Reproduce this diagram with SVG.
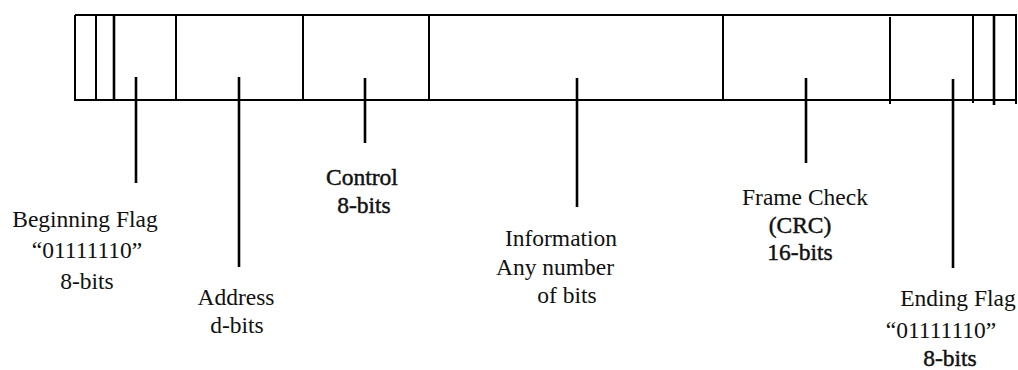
<svg xmlns="http://www.w3.org/2000/svg" width="1018" height="370" viewBox="0 0 1018 370">
  <style>
    .frame { stroke: #000; stroke-width: 2; fill: none; }
    .leader { stroke: #000; stroke-width: 2.6; fill: none; }
    .heavy { stroke: #111; stroke-width: 0.45; }
  </style>
  <rect width="1018" height="370" fill="#fff"/>

  <!-- frame body: outer border and field separators -->
  <g id="frame">
    <line class="frame" x1="75" y1="15" x2="1017" y2="15"/>
    <line class="frame" x1="75" y1="100" x2="1017" y2="100"/>
    <line class="frame" x1="75" y1="15" x2="75" y2="101"/>
    <line class="frame" x1="96" y1="15" x2="96" y2="101"/>
    <line class="frame" x1="114" y1="15" x2="114" y2="101" style="stroke-width:2.6"/>
    <line class="frame" x1="176" y1="15" x2="176" y2="101"/>
    <line class="frame" x1="303" y1="15" x2="303" y2="101"/>
    <line class="frame" x1="429" y1="15" x2="429" y2="101"/>
    <line class="frame" x1="723" y1="15" x2="723" y2="101"/>
    <line class="frame" x1="890" y1="17" x2="890" y2="104"/>
    <line class="frame" x1="973" y1="15" x2="973" y2="103"/>
    <line class="frame" x1="994" y1="15" x2="994" y2="105" style="stroke-width:2.6"/>
    <line class="frame" x1="1016" y1="15" x2="1016" y2="104"/>
  </g>

  <!-- leader lines from each field to its caption -->
  <g id="connectors">
    <line class="leader" x1="136" y1="77" x2="136" y2="183"/>
    <line class="leader" x1="239" y1="77" x2="239" y2="267"/>
    <line class="leader" x1="365" y1="78" x2="365" y2="143"/>
    <line class="leader" x1="577" y1="78" x2="577" y2="207"/>
    <line class="leader" x1="806" y1="78" x2="806" y2="163"/>
    <line class="leader" x1="953" y1="79" x2="953" y2="268"/>
  </g>

  <!-- captions: Times-style serif, centred under each leader -->
  <g id="beginning-flag" font-family="Liberation Serif" font-size="23.5" fill="#111" text-anchor="middle">
    <text x="85" y="227">Beginning Flag</text>
    <text x="87" y="258">“01111110”</text>
    <text x="87" y="289">8-bits</text>
  </g>

  <g id="address" font-family="Liberation Serif" font-size="23.5" fill="#111" text-anchor="middle">
    <text x="236" y="305">Address</text>
    <text x="237" y="333">d-bits</text>
  </g>

  <g id="control" font-family="Liberation Serif" font-size="23.5" fill="#111" text-anchor="middle">
    <text class="heavy" x="362" y="185">Control</text>
    <text class="heavy" x="364" y="213">8-bits</text>
  </g>

  <g id="information" font-family="Liberation Serif" font-size="23.5" fill="#111" text-anchor="middle">
    <text x="561" y="246">Information</text>
    <text x="555" y="275">Any number</text>
    <text x="567" y="303">of bits</text>
  </g>

  <g id="frame-check" font-family="Liberation Serif" font-size="23.5" fill="#111" text-anchor="middle">
    <text x="805" y="205">Frame Check</text>
    <text class="heavy" x="800" y="233">(CRC)</text>
    <text class="heavy" x="800" y="260">16-bits</text>
  </g>

  <g id="ending-flag" font-family="Liberation Serif" font-size="23.5" fill="#111" text-anchor="middle">
    <text x="958" y="306">Ending Flag</text>
    <text x="941" y="338">“01111110”</text>
    <text class="heavy" x="950" y="366">8-bits</text>
  </g>
</svg>
